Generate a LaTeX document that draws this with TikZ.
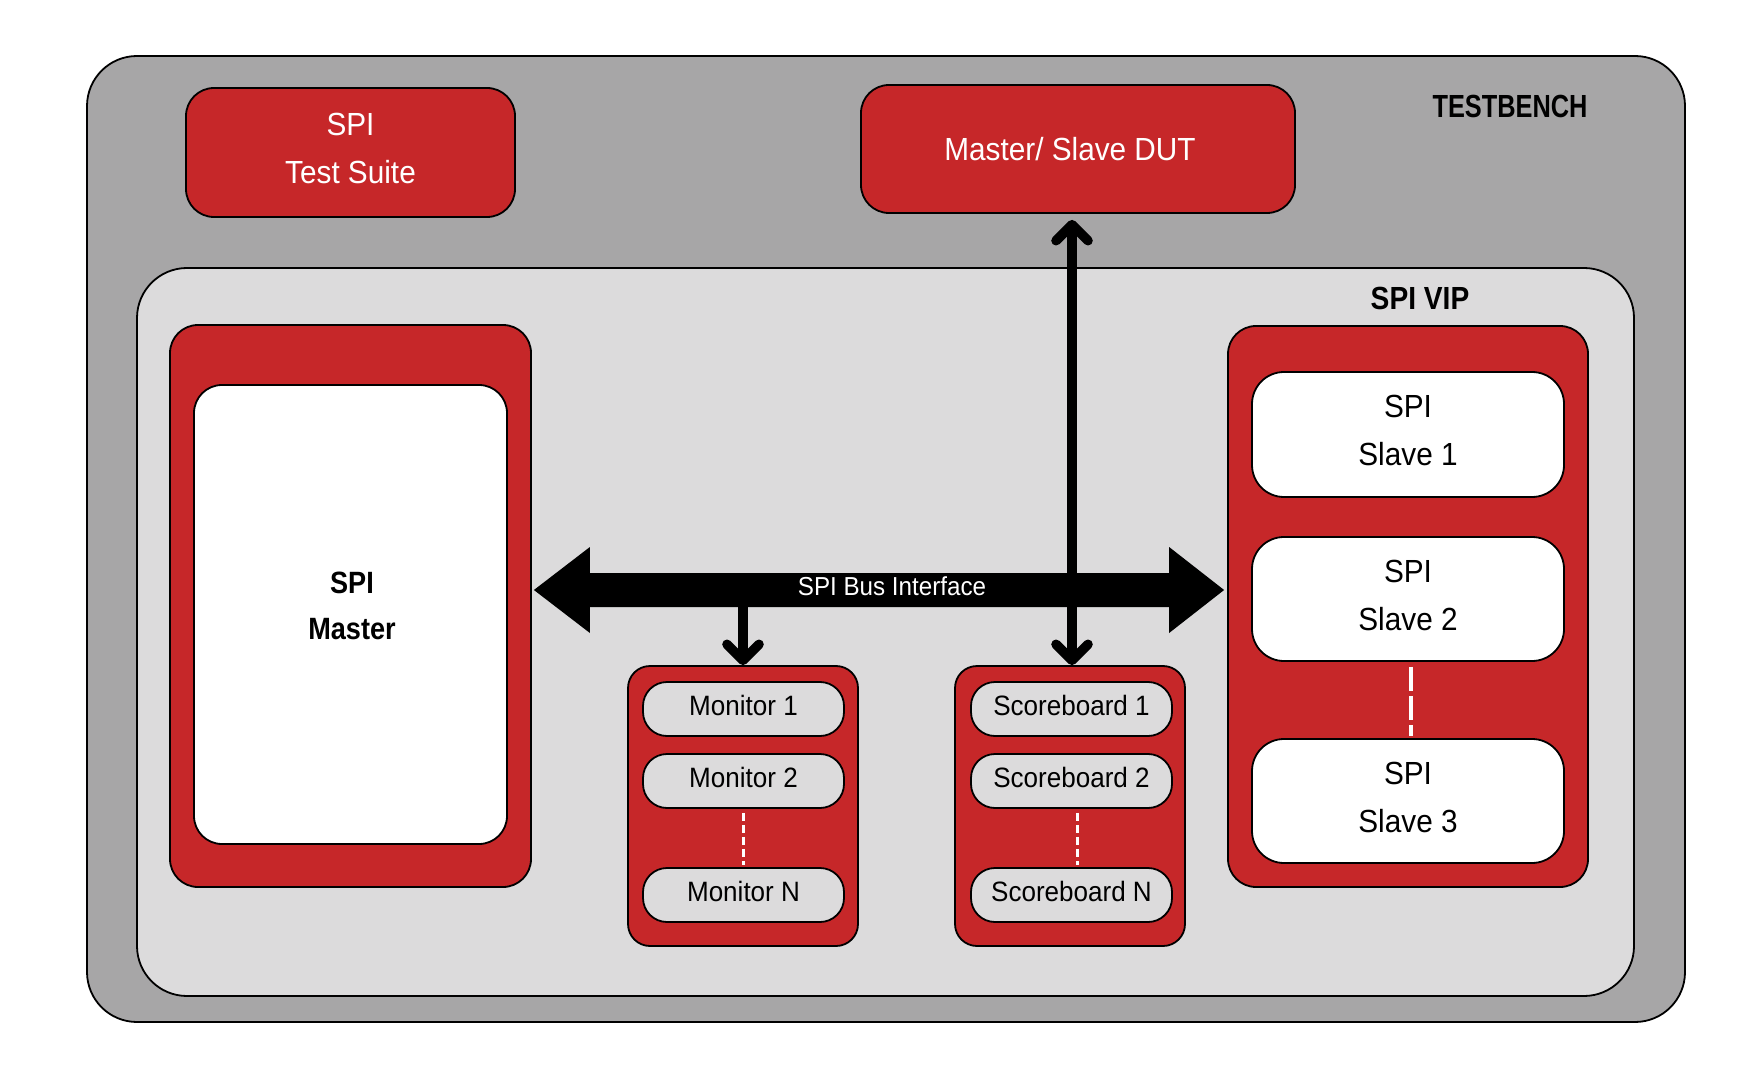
\documentclass[tikz,border=0pt]{standalone}
\usepackage{fontspec}
\setmainfont{Liberation Sans}[FakeStretch=0.93]
\newfontfamily\boldcond{Liberation Sans}[FakeStretch=0.88]
\usetikzlibrary{arrows.meta,calc}
\definecolor{tbred}{HTML}{C62729}
\definecolor{tbgray}{HTML}{A7A6A7}
\definecolor{vipgray}{HTML}{DCDBDC}
\newcommand\lowstrut{\rule[-4pt]{0pt}{4pt}}
\begin{document}
\begin{tikzpicture}[x=0.5pt,y=-0.5pt,
  box/.style={draw=black, line width=0.9pt, inner sep=0pt, align=center},
  redbox/.style={box, fill=tbred, text=white},
  whitebox/.style={box, fill=white, text=black},
  pill/.style={box, fill=vipgray, text=black, rounded corners=12pt,
    minimum width=100.5pt, minimum height=27pt, font=\fontsize{14}{16}\selectfont,
    execute at end node={\lowstrut}},
  bigtext/.style={font=\fontsize{16}{24}\selectfont},
  boldlabel/.style={font=\boldcond\bfseries\fontsize{16}{20}\selectfont, text=black},
  conn/.style={line width=4.8pt, draw=black},
  barb/.tip={Straight Barb[length=8pt, width=16pt, round]},
  whitedash/.style={draw=white, line width=1.1pt, dash pattern=on 4pt off 2pt},
  slavedash/.style={draw=white, line width=2.2pt, dash pattern=on 12pt off 2.5pt}
]
\useasboundingbox (0,0) rectangle (1750,1080);
\fill[white] (0,0) rectangle (1750,1080);

% testbench
\node[box, fill=tbgray, rounded corners=25pt, minimum width=799pt, minimum height=483pt] (tb) at (886,539) {};
\node[boldlabel] (tblabel) at (1510,106) {\scalebox{0.9}[1]{TESTBENCH}};
\node[redbox, rounded corners=14pt, minimum width=164.5pt, minimum height=64.5pt, bigtext] (suite) at (350.5,152.5) {SPI\\Test Suite\lowstrut};
\node[redbox, rounded corners=14pt, minimum width=217pt, minimum height=64pt, bigtext] (dut) at (1078,149) {Master/ Slave DUT\hspace*{8pt}};

% SPI VIP
\node[box, fill=vipgray, rounded corners=25pt, minimum width=748.5pt, minimum height=364pt] (vip) at (885.5,632) {};
\node[boldlabel] (viplabel) at (1420,298) {SPI VIP};

% master
\node[redbox, rounded corners=14pt, minimum width=180.5pt, minimum height=281pt] (mastbox) at (350.5,606) {};
\node[whitebox, rounded corners=14pt, minimum width=156.5pt, minimum height=229.5pt] (mastin) at (350.5,614.5) {};
\node[align=center, font=\boldcond\bfseries\fontsize{15.4}{23}\selectfont] (masttext) at (352,606) {SPI\\Master};

% slaves
\node[redbox, rounded corners=14pt, minimum width=180pt, minimum height=280.5pt] (slaves) at (1408,606.5) {};
\node[whitebox, rounded corners=16pt, minimum width=156pt, minimum height=62.5pt, bigtext] (slave1) at (1408,434.5) {SPI\\Slave 1\lowstrut};
\node[whitebox, rounded corners=16pt, minimum width=156pt, minimum height=62pt, bigtext] (slave2) at (1408,599) {SPI\\Slave 2\lowstrut};
\node[whitebox, rounded corners=16pt, minimum width=156pt, minimum height=62pt, bigtext] (slave3) at (1408,801) {SPI\\Slave 3\lowstrut};
\draw[slavedash] ($(slave2.south)+(3,5)$) -- ($(slave3.north)+(3,-2)$);

% monitors
\node[redbox, rounded corners=11pt, minimum width=115pt, minimum height=140pt] (mon) at (743,806) {};
\node[pill] (mon1) at (743.5,709) {Monitor 1};
\node[pill] (mon2) at (743.5,781) {Monitor 2};
\node[pill] (monN) at (743.5,895) {Monitor N};
\draw[whitedash] ($(mon2.south)+(0,4)$) -- ($(monN.north)+(0,-2)$);

% scoreboards
\node[redbox, rounded corners=11pt, minimum width=115pt, minimum height=140pt] (sb) at (1070,806) {};
\node[pill] (sb1) at (1071.5,709) {Scoreboard 1};
\node[pill] (sb2) at (1071.5,781) {Scoreboard 2};
\node[pill] (sbN) at (1071.5,895) {Scoreboard N};
\draw[whitedash] ($(sb2.south)+(6,4)$) -- ($(sbN.north)+(6,-2)$);

% bus
\coordinate (busy) at (0,590);
\coordinate (busL) at ($(mastbox.east |- busy)+(2,0)$);
\coordinate (busR) at ($(slaves.west |- busy)+(-3,0)$);
\fill[black] (busL) -- ($(busL)+(56,-43)$) -- ($(busL)+(56,-17)$) -- ($(busR)+(-55,-17)$)
  -- ($(busR)+(-55,-43)$) -- (busR) -- ($(busR)+(-55,43)$) -- ($(busR)+(-55,17)$)
  -- ($(busL)+(56,17)$) -- ($(busL)+(56,43)$) -- cycle;
\node[text=white, font=\fontsize{13}{15}\selectfont] (buslabel) at (892,586) {SPI Bus Interface};

% connectors
\coordinate (monsrc) at ($(mon.north |- busy)+(0,15)$);
\coordinate (sbtop) at ($(sb.north)+(2,0)$);
\draw[conn, -barb] (monsrc) -- (mon.north);
\draw[conn, barb-barb, shorten <=3pt] (sbtop |- dut.south) -- (sbtop);
\end{tikzpicture}
\end{document}
